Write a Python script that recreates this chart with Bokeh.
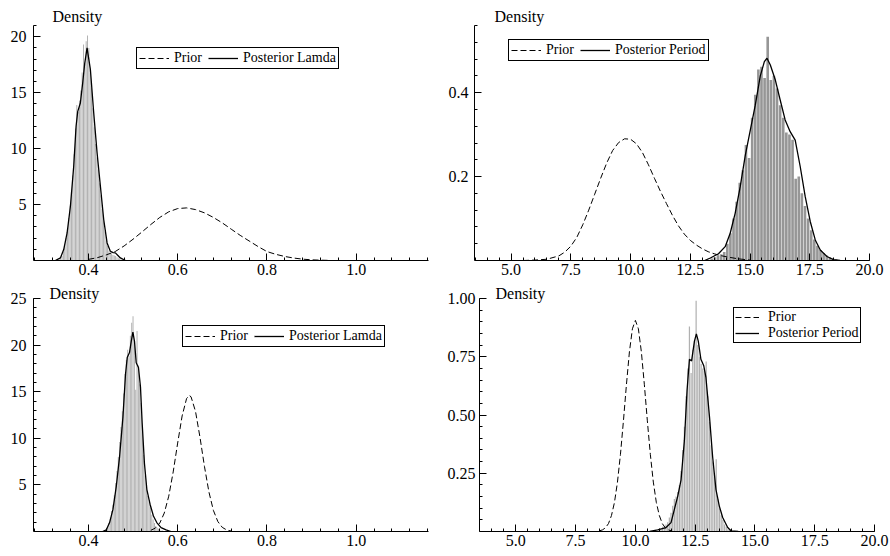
import numpy as np
from bokeh.plotting import figure
from bokeh.models import (Range1d, FixedTicker, PrintfTickFormatter, Legend,
                          LegendItem)
from bokeh.layouts import column, row
from bokeh.embed import file_html
from bokeh.resources import INLINE

FONT = "Liberation Serif"

# ---------------- data ----------------
# Top-left: Lamda (first run)
tl_bin_start, tl_bin_width = 0.335, 0.003
tl_hist = [0.1, 0.2, 0.4, 0.8, 1.3, 2.0, 2.8, 3.8, 4.9, 6.2, 7.6, 9.5, 11.8, 13.9, 13.3,
           14.3, 15.2, 16.8, 19.3, 17.6, 19.6, 20.1, 19.0, 17.1, 15.4, 13.6, 11.9, 10.4,
           9.2, 8.1, 6.9, 5.8, 4.6, 3.5, 2.6, 1.8, 1.3, 0.9, 0.7, 0.6, 0.5, 0.45, 0.4,
           0.3, 0.2, 0.15, 0.1]
tl_post_x = [0.326, 0.3373, 0.3447, 0.3523, 0.3597, 0.3671, 0.3724, 0.376, 0.382, 0.3872,
             0.3917, 0.397, 0.4045, 0.4119, 0.4195, 0.4269, 0.4343, 0.4419, 0.4492, 0.4555,
             0.4604, 0.4716, 0.483]
tl_post_y = [0.0, 0.23, 0.98, 2.46, 4.85, 8.42, 12.0, 13.3, 14.07, 15.86, 17.6, 19.0, 17.05,
             13.2, 9.6, 6.63, 3.66, 1.57, 0.83, 0.7, 0.68, 0.23, 0.0]
tl_prior_x = [0.40, 0.42, 0.44, 0.46, 0.48, 0.50, 0.52, 0.54, 0.56, 0.58, 0.60, 0.62, 0.64,
              0.66, 0.68, 0.70, 0.72, 0.74, 0.76, 0.78, 0.80, 0.82, 0.84, 0.86, 0.88, 0.90,
              0.92, 0.94]
tl_prior_y = [0.1, 0.25, 0.5, 0.8, 1.3, 1.90, 2.55, 3.22, 3.85, 4.35, 4.64, 4.70, 4.55, 4.26,
              3.85, 3.36, 2.80, 2.25, 1.75, 1.25, 0.80, 0.55, 0.36, 0.22, 0.12, 0.06, 0.03,
              0.01]

# Top-right: Period (first run)
tr_bin_start, tr_bin_width = 13.4, 0.13
tr_hist = [0.005, 0.008, 0.012, 0.015, 0.02, 0.04, 0.065, 0.1, 0.14, 0.185, 0.215, 0.275,
           0.244, 0.34, 0.395, 0.455, 0.462, 0.435, 0.533, 0.43, 0.44, 0.41, 0.37, 0.34,
           0.305, 0.3, 0.288, 0.195, 0.2, 0.16, 0.13, 0.1, 0.072, 0.05, 0.035, 0.025, 0.018,
           0.012, 0.008, 0.005, 0.003]
tr_post_x = [13.1, 13.34, 13.68, 13.96, 14.17, 14.38, 14.59, 14.8, 15.01, 15.22, 15.43, 15.6,
             15.71, 15.85, 16.06, 16.26, 16.47, 16.68, 16.89, 17.1, 17.31, 17.52, 17.73,
             17.94, 18.22, 18.49, 18.77]
tr_post_y = [0.0, 0.006, 0.016, 0.033, 0.065, 0.113, 0.176, 0.25, 0.31, 0.37, 0.44, 0.474,
             0.482, 0.466, 0.43, 0.383, 0.335, 0.307, 0.287, 0.224, 0.152, 0.093, 0.049,
             0.025, 0.0095, 0.002, 0.0]
tr_prior_x = [5.5, 6.0, 6.5, 7.0, 7.25, 7.5, 7.75, 8.0, 8.25, 8.5, 8.75, 9.0, 9.25, 9.5, 9.75,
              10.0, 10.25, 10.5, 10.75, 11.0, 11.25, 11.5, 11.75, 12.0, 12.25, 12.5, 12.75,
              13.0, 13.25, 13.5, 13.75, 14.0, 14.5, 15.0]
tr_prior_y = [0.0, 0.001, 0.003, 0.011, 0.02, 0.034, 0.055, 0.085, 0.12, 0.158, 0.196, 0.232,
              0.262, 0.281, 0.29, 0.289, 0.278, 0.257, 0.228, 0.196, 0.165, 0.136, 0.108,
              0.083, 0.063, 0.048, 0.037, 0.028, 0.021, 0.016, 0.012, 0.009, 0.004, 0.001]

# Bottom-left: Lamda (second run)
bl_bin_start, bl_bin_width = 0.437, 0.003
bl_hist = [0.1, 0.2, 0.4, 0.9, 1.5, 2.2, 2.9, 3.9, 5.2, 6.5, 8.0, 9.6, 11.2, 12.9, 14.8, 16.9,
           18.4, 19.5, 18.8, 21.0, 22.4, 23.1, 20.5, 15.2, 21.5, 17.8, 15.8, 13.8, 10.8, 8.2,
           6.0, 4.8, 3.8, 3.2, 2.6, 1.8, 1.3, 0.9, 0.6, 0.4, 0.3, 0.2, 0.1, 0.1]
bl_post_x = [0.432, 0.440, 0.4475, 0.455, 0.4625, 0.4698, 0.4774, 0.4832, 0.487, 0.4921,
             0.496, 0.4997, 0.5033, 0.5071, 0.5122, 0.5167, 0.5205, 0.5256, 0.531, 0.5383,
             0.5457, 0.5532, 0.5628, 0.574, 0.585]
bl_post_y = [0.0, 0.17, 0.96, 2.37, 4.85, 8.0, 12.3, 16.9, 18.66, 19.2, 20.4, 21.4, 20.4,
             18.1, 17.6, 15.5, 11.6, 7.3, 4.5, 2.9, 1.66, 0.96, 0.42, 0.17, 0.0]
bl_prior_x = [0.54, 0.55, 0.56, 0.57, 0.58, 0.59, 0.60, 0.61, 0.62, 0.626, 0.63, 0.64, 0.65,
              0.66, 0.67, 0.68, 0.69, 0.70, 0.71, 0.72]
bl_prior_y = [0.13, 0.37, 0.91, 1.98, 3.79, 6.39, 9.49, 12.4, 14.27, 14.6, 14.45, 12.88,
              10.11, 6.99, 4.25, 2.27, 1.07, 0.44, 0.16, 0.05]

# Bottom-right: Period (second run)
br_bin_start, br_bin_width = 11.0, 0.07
br_hist = [0.01, 0.01, 0.02, 0.02, 0.03, 0.04, 0.06, 0.08, 0.11, 0.14, 0.15, 0.17, 0.2, 0.26,
           0.35, 0.45, 0.58, 0.7, 0.88, 0.68, 0.78, 0.82, 0.99, 0.8, 0.75, 0.72, 0.7, 0.69,
           0.73, 0.58, 0.47, 0.37, 0.3, 0.24, 0.31, 0.14, 0.1, 0.07, 0.05, 0.03, 0.02, 0.01,
           0.01]
br_post_x = [10.6, 10.93, 11.28, 11.49, 11.63, 11.77, 11.91, 12.05, 12.16, 12.26, 12.35, 12.47,
             12.55, 12.63, 12.74, 12.86, 12.95, 13.1, 13.23, 13.37, 13.51, 13.65, 13.86, 14.0,
             14.3]
br_post_y = [0.0, 0.007, 0.017, 0.038, 0.095, 0.151, 0.222, 0.392, 0.605, 0.739, 0.732, 0.817,
             0.848, 0.817, 0.739, 0.711, 0.661, 0.491, 0.321, 0.18, 0.109, 0.06, 0.017, 0.003,
             0.0]
br_prior_x = [8.5, 8.625, 8.75, 8.875, 9.0, 9.125, 9.25, 9.375, 9.5, 9.625, 9.75, 9.875, 10.0,
              10.125, 10.25, 10.375, 10.5, 10.625, 10.75, 10.875, 11.0, 11.125, 11.25, 11.375,
              11.5]
br_prior_y = [0.003, 0.007, 0.016, 0.034, 0.069, 0.125, 0.212, 0.331, 0.475, 0.63, 0.771,
              0.87, 0.906, 0.87, 0.771, 0.63, 0.475, 0.331, 0.212, 0.125, 0.069, 0.034,
              0.016, 0.007, 0.003]

prior_label = "Prior"
lamda_label = "Posterior Lamda"
period_label = "Posterior Period"
y_title = "Density"


def panel(fw, fh, mb, xr, yr, xt, xminor, yt, yminor, xfmt, yfmt, ystand=6):
    p = figure(frame_width=fw, frame_height=fh, x_range=Range1d(*xr), y_range=Range1d(*yr),
               output_backend="svg", toolbar_location=None,
               min_border_left=mb[0], min_border_right=mb[1],
               min_border_top=mb[2], min_border_bottom=mb[3])
    p.grid.visible = False
    p.outline_line_color = None
    p.background_fill_color = "white"
    p.border_fill_color = "white"
    for ax in (p.xaxis[0], p.yaxis[0]):
        ax.major_tick_in = 7
        ax.major_tick_out = 0
        ax.minor_tick_in = 3
        ax.minor_tick_out = 0
        ax.axis_line_color = "black"
        ax.major_tick_line_color = "black"
        ax.minor_tick_line_color = "black"
        ax.major_label_text_font = FONT
        ax.major_label_text_font_size = "16px"
        ax.major_label_text_color = "black"
    p.xaxis[0].major_label_standoff = 3
    p.yaxis[0].major_label_standoff = ystand
    p.xaxis[0].ticker = FixedTicker(ticks=xt, minor_ticks=list(xminor))
    p.yaxis[0].ticker = FixedTicker(ticks=yt, minor_ticks=list(yminor))
    p.xaxis[0].formatter = PrintfTickFormatter(format=xfmt)
    p.yaxis[0].formatter = PrintfTickFormatter(format=yfmt)
    return p


def fill(p, start, bw, hist, px, py, qx, qy, color, frac):
    centers = [start + i * bw for i in range(len(hist))]
    p.vbar(x=centers, top=hist, width=bw * frac, bottom=0, fill_color=color,
           line_color=None)
    r_prior = p.line(qx, qy, line_color="black", line_width=1, line_dash="6 3")
    r_post = p.line(px, py, line_color="black", line_width=1.3)
    return r_prior, r_post


def add_legend(p, items, loc, orientation, glyph_w, standoff, spacing, pad=2):
    lg = Legend(items=items, location=loc, orientation=orientation,
                label_text_font=FONT, label_text_font_size="14px",
                label_text_line_height=1.0,
                label_text_color="black", glyph_width=glyph_w, glyph_height=10,
                label_height=10, label_standoff=standoff, spacing=spacing,
                padding=pad, margin=0, border_line_color="black", border_line_width=1,
                border_line_alpha=1.0, background_fill_color="white",
                background_fill_alpha=1.0)
    p.add_layout(lg)


def density_title(p, off, standoff):
    p.title.text = y_title
    p.title.align = "left"
    p.title.offset = off
    p.title.standoff = standoff
    p.title.text_font = FONT
    p.title.text_font_size = "16px"
    p.title.text_font_style = "normal"
    p.title.text_color = "black"


# Top-left  (frame 33..428 x 24..259)
tl = panel(395, 235, (33, 17, 24, 27), (0.277, 1.162), (0, 21),
           [0.4, 0.6, 0.8, 1.0], np.arange(0.28, 1.17, 0.04),
           [5, 10, 15, 20], np.arange(1, 22, 1), "%.1f", "%d", 7)
a, b = fill(tl, tl_bin_start, tl_bin_width, tl_hist, tl_post_x, tl_post_y,
            tl_prior_x, tl_prior_y, "#b0b0b0", 0.72)
add_legend(tl, [LegendItem(label=prior_label, renderers=[a]),
                LegendItem(label=lamda_label, renderers=[b])],
           (103, 191), "horizontal", 30, 5, 6)
density_title(tl, 19, 1)

# Top-right (frame 474..869 x 25..260)
tr = panel(395, 235, (29, 19, 25, 26), (3.47, 20.0), (0, 0.56),
           [5, 7.5, 10, 12.5, 15, 17.5, 20], np.arange(3.5, 20.01, 0.5),
           [0.2, 0.4], np.arange(0.04, 0.57, 0.04), "%.1f", "%.1f", 6)
a, b = fill(tr, tr_bin_start, tr_bin_width, tr_hist, tr_post_x, tr_post_y,
            tr_prior_x, tr_prior_y, "#969696", 0.84)
add_legend(tr, [LegendItem(label=prior_label, renderers=[a]),
                LegendItem(label=period_label, renderers=[b])],
           (34, 199), "horizontal", 30, 5, 6)
density_title(tr, 20, 1)

# Bottom-left (frame 33..428 x 297..530)
bl = panel(395, 233, (33, 16, 11, 24), (0.277, 1.162), (0, 25),
           [0.4, 0.6, 0.8, 1.0], np.arange(0.28, 1.17, 0.04),
           [5, 10, 15, 20, 25], np.arange(1, 26, 1), "%.1f", "%d", 7)
a, b = fill(bl, bl_bin_start, bl_bin_width, bl_hist, bl_post_x, bl_post_y,
            bl_prior_x, bl_prior_y, "#b0b0b0", 0.72)
add_legend(bl, [LegendItem(label=prior_label, renderers=[a]),
                LegendItem(label=lamda_label, renderers=[b])],
           (149, 184), "horizontal", 30, 5, 6)
density_title(bl, 16, -7)

# Bottom-right (frame 477..872 x 297..530)
br = panel(395, 233, (33, 16, 11, 24), (3.48, 20.0), (0, 1.0),
           [5, 7.5, 10, 12.5, 15, 17.5, 20], np.arange(3.5, 20.01, 0.5),
           [0.25, 0.5, 0.75, 1.0], np.arange(0.05, 1.01, 0.05), "%.1f", "%.2f", 4)
a, b = fill(br, br_bin_start, br_bin_width, br_hist, br_post_x, br_post_y,
            br_prior_x, br_prior_y, "#b0b0b0", 0.72)
add_legend(br, [LegendItem(label=prior_label, renderers=[a]),
                LegendItem(label=period_label, renderers=[b])],
           (254, 188), "vertical", 24, 9, 0, 1)
density_title(br, 16, -7)

layout = column(row(tl, tr), row(bl, br))
open("out.html", "w").write(file_html(layout, INLINE))
